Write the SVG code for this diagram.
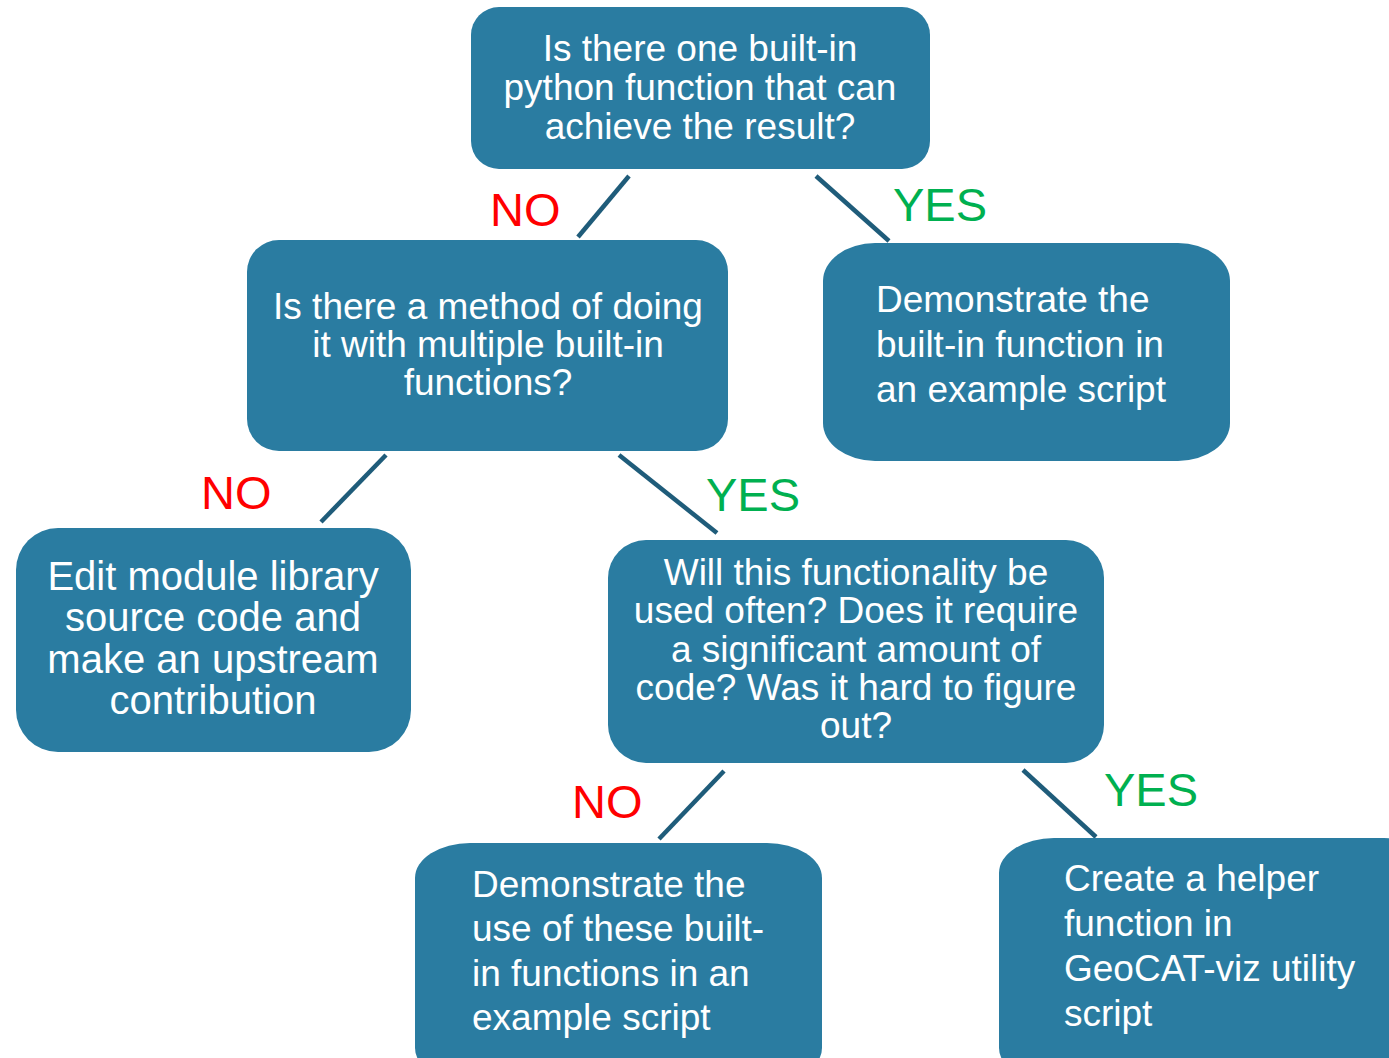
<svg xmlns="http://www.w3.org/2000/svg" width="1389" height="1058" viewBox="0 0 1389 1058">
<style>
.box{fill:#2a7ca1;}
.t{font-family:"Liberation Sans",Arial,sans-serif;font-size:37px;fill:#ffffff;}
.c{text-anchor:middle;}
.lbl{font-family:"Liberation Sans",Arial,sans-serif;font-size:47px;}
.no{fill:#ff0000;}
.yes{fill:#00b050;}
.conn line{stroke:#1f5c7a;stroke-width:4.5;}
</style>
<rect width="1389" height="1058" fill="#ffffff"/>
<g id="connectors" class="conn">
<line x1="629" y1="176" x2="578" y2="237"/>
<line x1="816" y1="176" x2="889" y2="241"/>
<line x1="386" y1="455" x2="321" y2="522"/>
<line x1="619" y1="455" x2="717" y2="533"/>
<line x1="724" y1="771" x2="659" y2="839"/>
<line x1="1023" y1="770" x2="1096" y2="837"/>
</g>
<g id="labels">
<text class="lbl no" x="490" y="226">NO</text>
<text class="lbl yes" x="893" y="221">YES</text>
<text class="lbl no" x="201" y="509">NO</text>
<text class="lbl yes" x="706" y="511">YES</text>
<text class="lbl no" x="572" y="818">NO</text>
<text class="lbl yes" x="1104" y="806">YES</text>
</g>
<g id="q1">
<rect class="box" x="471" y="7" width="459" height="162" rx="28" ry="28"/>
<text class="t c" x="700" y="61">Is there one built-in</text>
<text class="t c" x="700" y="100">python function that can</text>
<text class="t c" x="700" y="139">achieve the result?</text>
</g>
<g id="q2">
<rect class="box" x="247" y="240" width="481" height="211" rx="32" ry="32"/>
<text class="t c" x="488" y="319">Is there a method of doing</text>
<text class="t c" x="488" y="357">it with multiple built-in</text>
<text class="t c" x="488" y="395">functions?</text>
</g>
<g id="a1">
<rect class="box" x="823" y="243" width="407" height="218" rx="52" ry="38"/>
<text class="t" x="876" y="312">Demonstrate the</text>
<text class="t" x="876" y="357">built-in function in</text>
<text class="t" x="876" y="402">an example script</text>
</g>
<g id="a2">
<rect class="box" x="16" y="528" width="395" height="224" rx="42" ry="42"/>
<text class="t c" x="213" y="590" style="font-size:40px">Edit module library</text>
<text class="t c" x="213" y="631" style="font-size:40px">source code and</text>
<text class="t c" x="213" y="673" style="font-size:40px">make an upstream</text>
<text class="t c" x="213" y="714" style="font-size:40px">contribution</text>
</g>
<g id="q3">
<rect class="box" x="608" y="540" width="496" height="223" rx="38" ry="38"/>
<text class="t c" x="856" y="585">Will this functionality be</text>
<text class="t c" x="856" y="623">used often? Does it require</text>
<text class="t c" x="856" y="662">a significant amount of</text>
<text class="t c" x="856" y="700">code? Was it hard to figure</text>
<text class="t c" x="856" y="738">out?</text>
</g>
<g id="a3">
<rect class="box" x="415" y="843" width="407" height="240" rx="55" ry="35"/>
<text class="t" x="472" y="897">Demonstrate the</text>
<text class="t" x="472" y="941">use of these built-</text>
<text class="t" x="472" y="986">in functions in an</text>
<text class="t" x="472" y="1030">example script</text>
</g>
<g id="a4">
<rect class="box" x="999" y="838" width="440" height="245" rx="55" ry="35"/>
<text class="t" x="1064" y="891">Create a helper</text>
<text class="t" x="1064" y="936">function in</text>
<text class="t" x="1064" y="981">GeoCAT-viz utility</text>
<text class="t" x="1064" y="1026">script</text>
</g>
</svg>
